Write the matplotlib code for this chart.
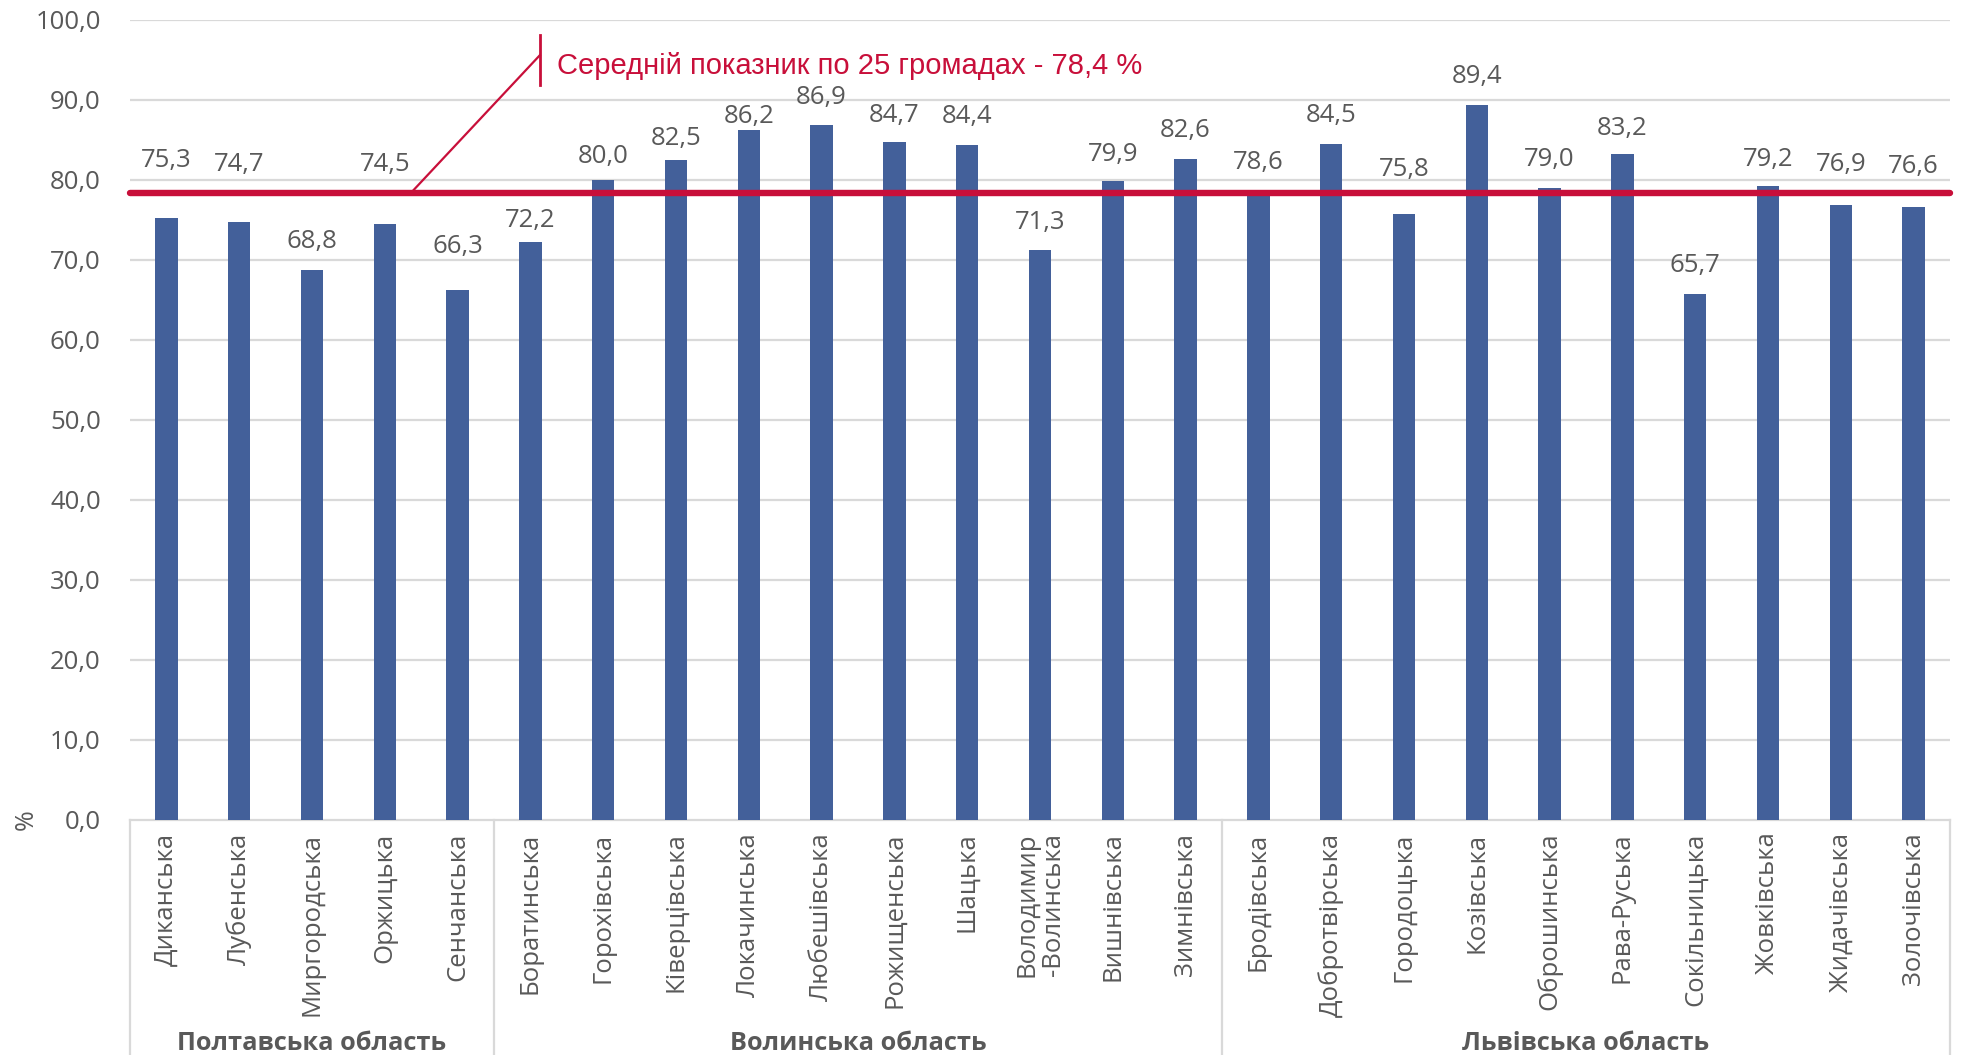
import matplotlib
matplotlib.use('Agg')
import matplotlib.pyplot as plt
import matplotlib.transforms as mtransforms
import numpy as np

plt.rcParams['font.family'] = ['Open Sans', 'DejaVu Sans']

# --- data -------------------------------------------------------------
groups = ['Полтавська область', 'Волинська область', 'Львівська область']
group_sizes = [5, 10, 10]

communities = ['Диканська', 'Лубенська', 'Миргородська', 'Оржицька', 'Сенчанська',
               'Боратинська', 'Горохівська', 'Ківерцівська', 'Локачинська', 'Любешівська',
               'Рожищенська', 'Шацька', 'Володимир\n-Волинська', 'Вишнівська', 'Зимнівська',
               'Бродівська', 'Добротвірська', 'Городоцька', 'Козівська', 'Оброшинська',
               'Рава-Руська', 'Сокільницька', 'Жовківська', 'Жидачівська', 'Золочівська']

values = [75.3, 74.7, 68.8, 74.5, 66.3,
          72.2, 80.0, 82.5, 86.2, 86.9, 84.7, 84.4, 71.3, 79.9, 82.6,
          78.6, 84.5, 75.8, 89.4, 79.0, 83.2, 65.7, 79.2, 76.9, 76.6]

mean_value = 78.4
mean_text = 'Середній показник по 25 громадах - 78,4 %'

# where the value labels sit (moved by hand in the original to clear the red line)
label_y = [82.4, 81.9, 72.3, 81.9, 71.7,
           75.0, 82.9, 85.2, 87.9, 90.3, 88.1, 87.9, 74.7, 83.2, 86.2,
           82.2, 88.1, 81.3, 92.9, 82.6, 86.5, 69.3, 82.6, 81.9, 81.7]

BAR_COLOR = '#43609a'
RED = '#c80f3a'
GRAY_TEXT = '#595959'
GRID = '#d9d9d9'

fig = plt.figure(figsize=(19.64, 10.55), dpi=100)
ax = fig.add_axes([130 / 1964, 1 - 820 / 1055, 1820 / 1964, 800 / 1055])

x = np.arange(len(values))
ax.bar(x, values, width=0.31, color=BAR_COLOR, zorder=2)

ax.set_xlim(-0.5, len(values) - 0.5)
ax.set_ylim(0, 100)

# gridlines
yticks = np.arange(0, 101, 10)
ax.set_yticks(yticks)
ax.set_yticklabels([f'{t:.1f}'.replace('.', ',') for t in yticks],
                   fontsize=18.5, color=GRAY_TEXT)
for t in yticks[1:]:
    ax.axhline(t, color=GRID, lw=1.6, zorder=0)
ax.tick_params(axis='y', length=0, pad=21)

for s in ax.spines.values():
    s.set_visible(False)

# category axis
ax.set_xticks(x)
ax.set_xticklabels(communities, rotation=90, fontsize=18.5, color=GRAY_TEXT,
                   va='top', ha='center')
for lab in ax.get_xticklabels():
    lab.set_multialignment('right')
    lab.set_linespacing(1.1)
ax.tick_params(axis='x', length=0, pad=9)

trans = mtransforms.blended_transform_factory(ax.transData, ax.transAxes)
ax.plot([-0.5, len(values) - 0.5], [0, 0], color=GRID, lw=1.6, transform=trans,
        clip_on=False, zorder=1)
bounds = np.concatenate([[0], np.cumsum(group_sizes)]) - 0.5
for b in bounds:
    ax.plot([b, b], [0, -0.32], color=GRID, lw=1.6, transform=trans, clip_on=False)

starts = bounds[:-1]
for g, st, n in zip(groups, starts, group_sizes):
    ax.text(st + n / 2, -0.279, g, transform=trans, ha='center', va='center',
            fontsize=18.3, fontweight='bold', color=GRAY_TEXT)

# value labels
for xi, v, ly in zip(x, values, label_y):
    ax.text(xi, ly, f'{v:.1f}'.replace('.', ','), ha='center', va='center',
            fontsize=18.5, color=GRAY_TEXT, zorder=3)

# mean line and callout
ax.plot([-0.5, len(values) - 0.5], [mean_value, mean_value], color=RED, lw=4.6,
        solid_capstyle='round', zorder=4, clip_on=False)
ax.plot([3.36, 5.13], [mean_value, 95.6], color=RED, lw=1.6, zorder=4)
ax.plot([5.13, 5.13], [91.9, 98.1], color=RED, lw=2.0, zorder=4)
ax.text(5.37, 94.3, mean_text, ha='left', va='center', color=RED,
        fontsize=21, family=['Liberation Sans', 'DejaVu Sans'])

ax.text(-0.057, 0, '%', transform=ax.transAxes, rotation=90, ha='center', va='center',
        fontsize=18, color=GRAY_TEXT)

plt.savefig('out.png', dpi=100)
